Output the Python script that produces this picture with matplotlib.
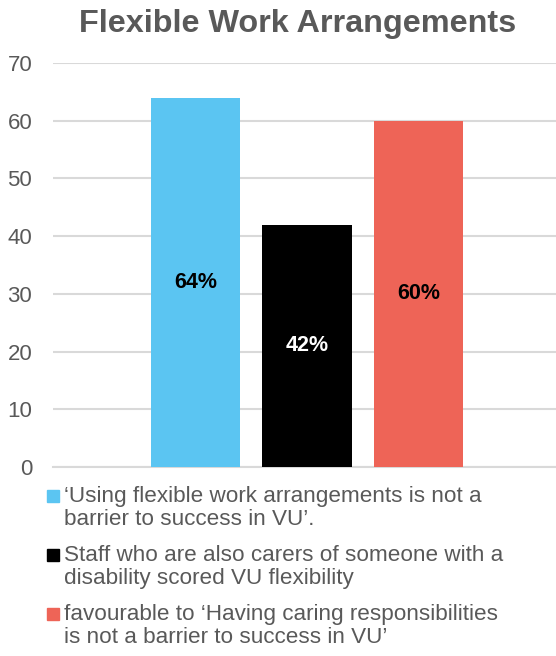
import matplotlib
matplotlib.use("Agg")
import matplotlib.pyplot as plt
from matplotlib.patches import Rectangle

plt.rcParams['font.family'] = ['Liberation Sans', 'DejaVu Sans']

# chart data
series_labels = [
    "\u2018Using flexible work arrangements is not a\nbarrier to success in VU\u2019.",
    "Staff who are also carers of someone with a\ndisability scored VU flexibility",
    "favourable to \u2018Having caring responsibilities\nis not a barrier to success in VU\u2019",
]
values = [64, 42, 60]
colors = ["#5BC5F2", "#000000", "#EE6457"]
label_colors = ["#000000", "#FFFFFF", "#000000"]
y_ticks = [0, 10, 20, 30, 40, 50, 60, 70]

W, H = 556, 656
TEXT_GREY = "#595959"
GRID_GREY = "#D9D9D9"

fig = plt.figure(figsize=(W / 100, H / 100), dpi=100)
ax = fig.add_axes([53 / W, 1 - 467 / H, 1 - 53 / W, (467 - 63) / H])

xs = list(range(len(values)))
bars = ax.bar(xs, values, width=0.8, color=colors, zorder=3)
for bar, v, c in zip(bars, values, label_colors):
    ax.text(bar.get_x() + bar.get_width() / 2, v / 2, f"{v}%",
            ha="center", va="center", fontsize=15.5, fontweight="bold",
            color=c, zorder=4)

ax.set_xlim(-1.278, 3.233)
ax.set_ylim(0, 70)
ax.set_yticks(y_ticks)
ax.set_xticks([])
ax.tick_params(axis="y", length=0, pad=15, labelsize=16, labelcolor=TEXT_GREY)
ax.yaxis.grid(True, color=GRID_GREY, linewidth=1.5, zorder=0)
for side in ["top", "right", "left"]:
    ax.spines[side].set_visible(False)
ax.spines["bottom"].set_color(GRID_GREY)
ax.spines["bottom"].set_linewidth(1.5)

fig.text(298 / W, 1 - 24 / H, "Flexible Work Arrangements", ha="center",
         va="center", fontsize=23.3, fontweight="bold", color=TEXT_GREY)

# legend, drawn by hand so the wrapped labels sit next to their swatches
legend_top = [496, 555, 614]
for top, lab, c in zip(legend_top, series_labels, colors):
    fig.patches.append(Rectangle((47 / W, 1 - (top + 6) / H), 12 / W, 12 / H,
                                 transform=fig.transFigure, color=c))
    fig.text(64 / W, 1 - (top - 10) / H, lab, ha="left", va="top",
             fontsize=16.2, color=TEXT_GREY, linespacing=1.1)

fig.savefig("out.png", dpi=100)
